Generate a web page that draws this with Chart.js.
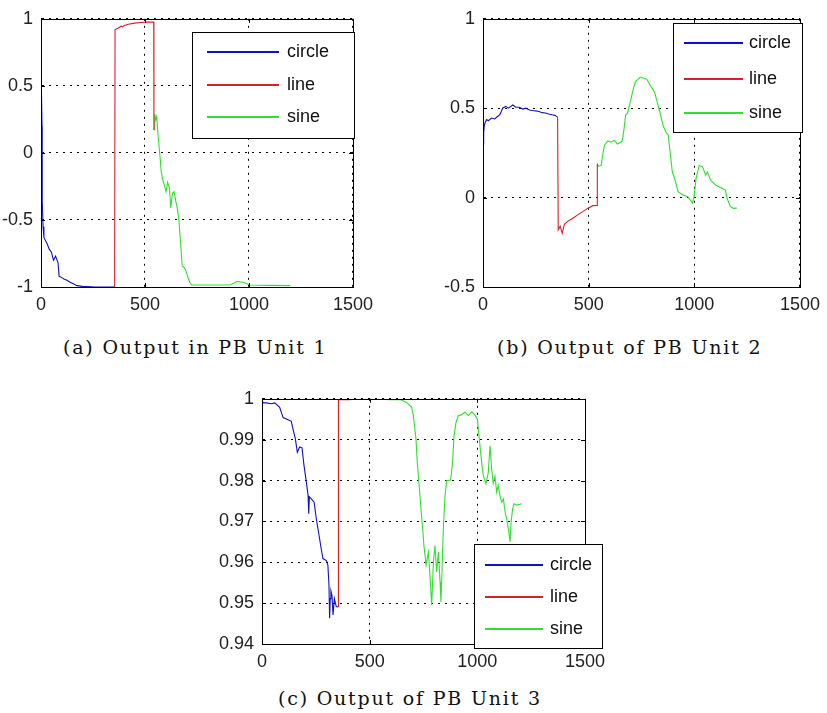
<!DOCTYPE html>
<html>
<head>
<meta charset="utf-8">
<script src="https://cdn.jsdelivr.net/npm/chart.js@4.4.1/dist/chart.umd.min.js"></script>
<style>
  body { margin: 0; background: #fff; }
  #page { position: relative; width: 827px; height: 713px; overflow: hidden; }
  canvas { position: absolute; }
  .cap { position: absolute; font-family: "DejaVu Serif", serif; font-size: 19px; letter-spacing: 1.8px; color: #111; white-space: nowrap; }
</style>
</head>
<body>
<div id="page">
  <canvas id="chartA" width="380" height="320" style="left:0px;top:0px"></canvas>
  <canvas id="chartB" width="397" height="320" style="left:430px;top:0px"></canvas>
  <canvas id="chartC" width="420" height="300" style="left:200px;top:380px"></canvas>
  <div class="cap" id="capA" style="left:63px;top:336px">(a) Output in PB Unit 1</div>
  <div class="cap" id="capB" style="left:497px;top:336px">(b) Output of PB Unit 2</div>
  <div class="cap" id="capC" style="left:278px;top:687px">(c) Output of PB Unit 3</div>
</div>
<script>
const seriesNames = ["circle", "line", "sine"];
const xTicks = [0, 500, 1000, 1500];

// (a) Output in PB Unit 1
const circleXA = [0, 3, 5, 6, 10, 14, 20, 30, 40, 50, 60, 70, 82, 87, 100, 110, 125, 140, 160, 172, 200, 260, 354];
const circleYA = [0.66, 0.66, 0.2, -0.36, -0.55, -0.63, -0.65, -0.68, -0.72, -0.74, -0.80, -0.77, -0.82, -0.92, -0.93, -0.94, -0.95, -0.965, -0.98, -0.99, -0.995, -1, -1];
const lineXA = [354, 356, 370, 385, 392, 400, 420, 450, 480, 510, 542, 543];
const lineYA = [-1, 0.92, 0.93, 0.945, 0.94, 0.95, 0.96, 0.968, 0.972, 0.975, 0.975, 0.17];
const sineXA = [545, 547, 552, 556, 562, 566, 570, 574, 578, 585, 593, 601, 609, 617, 624, 632, 640, 648, 655, 663, 671, 679, 686, 694, 701, 709, 717, 725, 760, 850, 911, 942, 973, 1004, 1100, 1199];
const sineYA = [0.17, 0.29, 0.25, 0.27, 0.15, 0.08, 0.01, -0.06, -0.14, -0.2, -0.24, -0.29, -0.22, -0.26, -0.41, -0.3, -0.29, -0.36, -0.41, -0.5, -0.67, -0.845, -0.85, -0.87, -0.9, -0.94, -0.97, -0.985, -0.985, -0.985, -0.985, -0.96, -0.965, -0.985, -0.988, -0.99];
const yTicksA = [-1, -0.5, 0, 0.5, 1];

// (b) Output of PB Unit 2
const circleXB = [0, 3, 6, 10, 17, 25, 40, 55, 70, 79, 86, 93, 107, 120, 141, 155, 172, 188, 203, 220, 234, 250, 265, 280, 296, 310, 327, 340, 353];
const circleYB = [0.30, 0.36, 0.40, 0.42, 0.436, 0.43, 0.445, 0.44, 0.455, 0.463, 0.48, 0.50, 0.51, 0.50, 0.518, 0.505, 0.505, 0.495, 0.5, 0.49, 0.487, 0.485, 0.482, 0.475, 0.473, 0.468, 0.463, 0.46, 0.45];
const lineXB = [353, 356, 365, 375, 385, 404, 420, 450, 470, 497, 520, 540, 541];
const lineYB = [0.45, -0.18, -0.16, -0.2, -0.15, -0.13, -0.12, -0.095, -0.08, -0.059, -0.045, -0.044, 0.19];
const sineXB = [541, 545, 559, 566, 574, 590, 605, 621, 636, 650, 659, 667, 675, 683, 690, 706, 714, 721, 744, 768, 776, 791, 807, 814, 830, 853, 868, 876, 884, 896, 907, 923, 946, 969, 985, 992, 1000, 1008, 1023, 1039, 1054, 1062, 1077, 1101, 1132, 1147, 1155, 1170, 1185, 1201];
const sineYB = [0.19, 0.175, 0.18, 0.235, 0.29, 0.317, 0.31, 0.32, 0.30, 0.31, 0.317, 0.38, 0.463, 0.47, 0.5, 0.58, 0.62, 0.647, 0.674, 0.665, 0.66, 0.628, 0.60, 0.58, 0.51, 0.40, 0.36, 0.353, 0.27, 0.143, 0.106, 0.033, 0.015, 0.005, -0.02, -0.031, 0.015, 0.106, 0.18, 0.172, 0.125, 0.143, 0.097, 0.07, 0.051, 0.042, -0.004, -0.049, -0.06, -0.059];
const yTicksB = [-0.5, 0, 0.5, 1];

// (c) Output of PB Unit 3
const circleXC = [0, 2, 8, 20, 43, 59, 82, 98, 121, 136, 144, 155, 164, 175, 186, 195, 206, 214, 217, 220, 229, 242, 252, 260, 275, 283, 299, 306, 311, 314, 317, 320, 325, 330, 336, 345, 353];
const circleYC = [0.9975, 0.9993, 0.999, 0.999, 0.9988, 0.999, 0.9979, 0.9954, 0.9949, 0.9945, 0.9926, 0.9902, 0.9869, 0.9882, 0.988, 0.9837, 0.9796, 0.9763, 0.9719, 0.976, 0.9755, 0.9747, 0.9707, 0.9682, 0.9633, 0.9609, 0.9604, 0.9593, 0.9544, 0.9463, 0.9511, 0.953, 0.9519, 0.9471, 0.9511, 0.9491, 0.9491];
const lineXC = [353, 355, 400, 450, 500, 540];
const lineYC = [0.9491, 0.9998, 0.9998, 0.9999, 0.9999, 0.9999];
const sineXC = [540, 600, 641, 672, 695, 703, 715, 721, 731, 737, 746, 752, 762, 773, 780, 788, 796, 803, 811, 819, 827, 831, 836, 842, 850, 858, 876, 885, 892, 901, 912, 923, 943, 958, 974, 989, 1000, 1009, 1020, 1028, 1040, 1051, 1059, 1067, 1074, 1082, 1090, 1097, 1105, 1113, 1121, 1129, 1136, 1144, 1152, 1157, 1164, 1170, 1183, 1206];
const sineYC = [0.9999, 0.9998, 0.9998, 0.9991, 0.9979, 0.9959, 0.9902, 0.9845, 0.978, 0.9739, 0.9682, 0.9641, 0.9593, 0.9625, 0.9568, 0.9495, 0.9601, 0.9641, 0.9576, 0.9625, 0.9552, 0.9503, 0.958, 0.9682, 0.9763, 0.98, 0.9801, 0.9845, 0.991, 0.9942, 0.9959, 0.996, 0.9967, 0.9959, 0.9968, 0.996, 0.995, 0.9902, 0.9845, 0.9812, 0.9792, 0.982, 0.9885, 0.9825, 0.9793, 0.981, 0.9771, 0.9788, 0.9763, 0.9747, 0.9755, 0.9723, 0.9707, 0.9682, 0.965, 0.97, 0.9731, 0.9743, 0.974, 0.9743];
const yTicksC = [0.94, 0.95, 0.96, 0.97, 0.98, 0.99, 1];

const colors = ["#1010c8", "#d8202c", "#30e030"];
const tickFont = { family: "'Liberation Sans', Arial, sans-serif", size: 18 };

function pts(xs, ys) {
  return xs.map((x, i) => ({ x: x, y: ys[i] }));
}

// matlab style box, inner ticks and legend
const matlabBox = {
  id: "matlabBox",
  afterDraw(chart, args, opts) {
    const ctx = chart.ctx;
    const a = chart.chartArea;
    const xs = chart.scales.x, ys = chart.scales.y;
    ctx.save();
    ctx.setLineDash([]);
    ctx.strokeStyle = "#000";
    ctx.lineWidth = 1;
    ctx.strokeRect(Math.round(a.left) + 0.5, Math.round(a.top) + 0.5, Math.round(a.right - a.left), Math.round(a.bottom - a.top));
    ctx.beginPath();
    xs.ticks.forEach(t => {
      const px = Math.round(xs.getPixelForValue(t.value)) + 0.5;
      ctx.moveTo(px, a.bottom); ctx.lineTo(px, a.bottom - 4);
      ctx.moveTo(px, a.top); ctx.lineTo(px, a.top + 4);
    });
    ys.ticks.forEach(t => {
      const py = Math.round(ys.getPixelForValue(t.value)) + 0.5;
      ctx.moveTo(a.left, py); ctx.lineTo(a.left + 4, py);
      ctx.moveTo(a.right, py); ctx.lineTo(a.right - 4, py);
    });
    ctx.stroke();

    const b = opts.box;
    ctx.fillStyle = "#fff";
    ctx.fillRect(b[0], b[1], b[2] - b[0], b[3] - b[1]);
    ctx.strokeRect(b[0] + 0.5, b[1] + 0.5, b[2] - b[0], b[3] - b[1]);
    ctx.font = "18px 'Liberation Sans', Arial, sans-serif";
    ctx.textBaseline = "middle";
    seriesNames.forEach((name, i) => {
      const y = opts.rows[i];
      ctx.strokeStyle = colors[i];
      ctx.lineWidth = 1.8;
      ctx.beginPath();
      ctx.moveTo(opts.line[0], y); ctx.lineTo(opts.line[1], y);
      ctx.stroke();
      ctx.fillStyle = "#111";
      ctx.fillText(name, opts.textX, y);
    });
    ctx.restore();
  }
};

function makeChart(id, data, yMin, yMax, yTicks, pad, yWidth, xHeight, legend) {
  const datasets = data.map((d, i) => ({
    label: seriesNames[i],
    data: pts(d[0], d[1]),
    borderColor: colors[i],
    borderWidth: 1.1,
    pointRadius: 0,
    tension: 0,
    fill: false
  }));
  return new Chart(document.getElementById(id), {
    type: "line",
    data: { datasets: datasets },
    options: {
      responsive: false,
      animation: false,
      devicePixelRatio: 1,
      layout: { padding: pad },
      plugins: { legend: { display: false }, tooltip: { enabled: false }, matlabBox: legend },
      scales: {
        x: {
          type: "linear", min: 0, max: 1500,
          afterBuildTicks: s => { s.ticks = xTicks.map(v => ({ value: v })); },
          afterFit: s => { s.height = xHeight; },
          ticks: { font: tickFont, color: "#222", padding: 7, maxRotation: 0, callback: v => String(v) },
          grid: { color: "#000", lineWidth: 1, drawTicks: false },
          border: { display: true, color: "#000", dash: [2, 5] }
        },
        y: {
          type: "linear", min: yMin, max: yMax,
          afterBuildTicks: s => { s.ticks = yTicks.map(v => ({ value: v })); },
          afterFit: s => { s.width = yWidth; },
          ticks: { font: tickFont, color: "#222", padding: 8, callback: v => String(v) },
          grid: { color: "#000", lineWidth: 1, drawTicks: false },
          border: { display: true, color: "#000", dash: [2, 5] }
        }
      }
    },
    plugins: [matlabBox]
  });
}

makeChart("chartA",
  [[circleXA, circleYA], [lineXA, lineYA], [sineXA, sineYA]],
  -1, 1, yTicksA,
  { left: 0, top: 14, right: 17, bottom: 0 }, 41, 33,
  { box: [192, 32, 354, 138], line: [207, 279], textX: 287, rows: [52, 85, 117] });

makeChart("chartB",
  [[circleXB, circleYB], [lineXB, lineYB], [sineXB, sineYB]],
  -0.5, 1, yTicksB,
  { left: 0, top: 14, right: 21, bottom: 0 }, 53, 33,
  { box: [243, 23, 372, 132], line: [254, 313], textX: 319, rows: [43, 79, 113] });

makeChart("chartC",
  [[circleXC, circleYC], [lineXC, lineYC], [sineXC, sineYC]],
  0.94, 1, yTicksC,
  { left: 0, top: 18, right: 35, bottom: 0 }, 62, 36,
  { box: [274, 164, 402, 268], line: [285, 343], textX: 350, rows: [185, 217, 249] });
</script>
</body>
</html>
